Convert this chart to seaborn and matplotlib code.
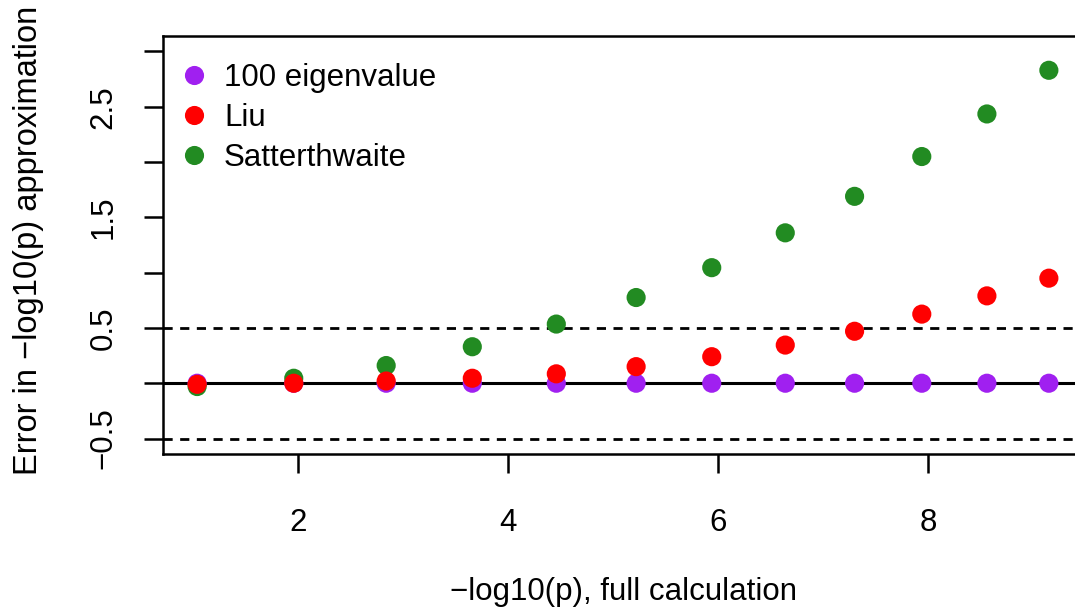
"""
Error of p-value approximations versus full calculation
"""
import matplotlib
matplotlib.use("Agg")
import matplotlib.pyplot as plt
import seaborn as sns
import pandas as pd

# x positions: -log10(p) from the full calculation
neglog_p = [1.04, 1.96, 2.84, 3.66, 4.46, 5.22, 5.94, 6.64, 7.30, 7.94, 8.56, 9.15]

# error of each approximation
err_eigen = [0.0, 0.0, 0.0, 0.0, 0.0, 0.0, 0.0, 0.0, 0.0, 0.0, 0.0, 0.0]
err_liu = [-0.01, 0.0, 0.02, 0.045, 0.085, 0.15, 0.24, 0.345, 0.47, 0.625, 0.79, 0.95]
err_satt = [-0.03, 0.045, 0.16, 0.33, 0.535, 0.775, 1.045, 1.36, 1.69, 2.05, 2.435, 2.83]

methods = ["100 eigenvalue", "Liu", "Satterthwaite"]
colors = {"100 eigenvalue": "#A020F0", "Liu": "#FF0000", "Satterthwaite": "#228B22"}

y_ticks = [-0.5, 0.0, 0.5, 1.0, 1.5, 2.0, 2.5, 3.0]
y_tick_labels = ["\u22120.5", "", "0.5", "", "1.5", "", "2.5", ""]
x_ticks = [2, 4, 6, 8]

# drawing order: purple, green, red (red ends up on top)
df = pd.concat([
    pd.DataFrame({"x": neglog_p, "err": err_eigen, "method": "100 eigenvalue"}),
    pd.DataFrame({"x": neglog_p, "err": err_satt, "method": "Satterthwaite"}),
    pd.DataFrame({"x": neglog_p, "err": err_liu, "method": "Liu"}),
], ignore_index=True)

sns.set_style("ticks")
plt.rcParams['font.family'] = ['Liberation Sans', 'DejaVu Sans']
plt.rcParams['axes.unicode_minus'] = True
plt.rcParams['text.color'] = 'black'
plt.rcParams['axes.labelcolor'] = 'black'

fig = plt.figure(figsize=(10.75, 6.09), dpi=100)
ax = fig.add_axes([163 / 1075, 1 - 454 / 609, 920 / 1075, 418 / 609])

sns.scatterplot(data=df, x="x", y="err", hue="method", hue_order=methods,
                palette=colors, s=190, linewidth=0, ax=ax, zorder=3)

ax.axhline(0, color="black", lw=2.2, zorder=2)
ax.axhline(0.5, color="black", lw=2.0, dashes=(3.3, 2.7), zorder=2)
ax.axhline(-0.5, color="black", lw=2.0, dashes=(3.3, 2.7), zorder=2)

ax.set_xlim(0.715, 9.475)
ax.set_ylim(-0.64, 3.14)
ax.set_xticks(x_ticks)
ax.set_yticks(y_ticks)
ax.set_yticklabels(y_tick_labels, rotation=90, va="center")

for side in ["left", "bottom", "top", "right"]:
    ax.spines[side].set_linewidth(1.8)
    ax.spines[side].set_color("black")
ax.tick_params(axis="both", length=14, width=1.8, labelsize=22.5, colors="black")
ax.tick_params(axis="x", pad=25)
ax.tick_params(axis="y", pad=18)

ax.set_xlabel("\u2212log10(p), full calculation", fontsize=22.5)
ax.xaxis.set_label_coords(0.5, -0.295)
ax.set_ylabel("")
fig.text(29 / 1075, 1 - 240 / 609, "Error in \u2212log10(p) approximation",
         rotation=90, ha="center", va="center", fontsize=23.5)

sns.move_legend(ax, "upper left", bbox_to_anchor=(0.0, 0.976), frameon=False,
                title=None, fontsize=22.5, labelspacing=0.32, markerscale=1.0,
                handletextpad=0.5, borderaxespad=0.35, handlelength=0.9,
                borderpad=0.2)

plt.savefig("out.png", dpi=100)
plt.close()
